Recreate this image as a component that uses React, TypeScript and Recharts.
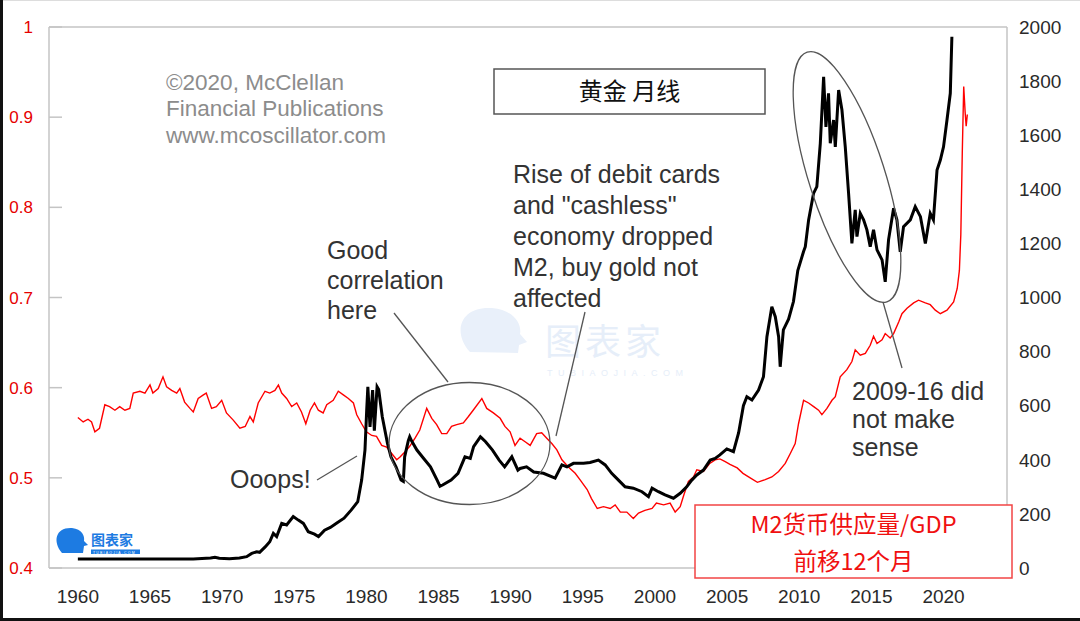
import React from 'react';
import { ComposedChart, Line, XAxis, YAxis, ReferenceLine } from 'recharts';

const SANS = '"Liberation Sans", Arial, sans-serif';
const CJK = '"Noto Sans CJK SC", "Noto Sans", sans-serif';

// axis ticks
const yearTicks = [1960, 1965, 1970, 1975, 1980, 1985, 1990, 1995, 2000, 2005, 2010, 2015, 2020];
const ratioTicks = [0.4, 0.5, 0.6, 0.7, 0.8, 0.9, 1];
const goldTicks = [0, 200, 400, 600, 800, 1000, 1200, 1400, 1600, 1800, 2000];

// gold, monthly close
const goldYears = [
  1960, 1962, 1964, 1966, 1968, 1969.2, 1969.5, 1969.8, 1970.5, 1971.2,
  1971.7, 1972.05, 1972.4, 1972.6, 1973.0, 1973.3, 1973.55, 1973.78, 1974.13, 1974.47,
  1974.93, 1975.28, 1975.63, 1975.97, 1976.4, 1976.68, 1977.1, 1977.5, 1978.0, 1978.45,
  1978.94, 1979.4, 1979.67, 1979.9, 1980.02, 1980.1, 1980.25, 1980.43, 1980.55, 1980.74,
  1980.85, 1981.1, 1981.46, 1981.7, 1982.05, 1982.4, 1982.56, 1982.65, 1982.9, 1983.0,
  1983.13, 1983.5, 1983.97, 1984.44, 1984.9, 1985.1, 1985.28, 1985.87, 1986.35, 1986.83,
  1987.2, 1987.43, 1987.9, 1988.0, 1988.26, 1988.74, 1989.2, 1989.58, 1990.08, 1990.5,
  1990.65, 1991.1, 1991.6, 1992.27, 1993.08, 1993.55, 1993.9, 1994.35, 1995.05, 1995.5,
  1996.08, 1996.55, 1997.0, 1997.47, 1997.93, 1998.5, 1999.1, 1999.55, 1999.8, 2000.24,
  2000.7, 2001.28, 2001.75, 2002.2, 2002.55, 2002.9, 2003.36, 2003.83, 2004.17, 2004.5,
  2004.98, 2005.44, 2005.8, 2006.13, 2006.37, 2006.72, 2007.18, 2007.52, 2007.76, 2008.1,
  2008.34, 2008.57, 2008.68, 2008.9, 2009.26, 2009.6, 2009.9, 2010.3, 2010.42, 2010.65,
  2010.99, 2011.22, 2011.46, 2011.69, 2011.85, 2012.03, 2012.15, 2012.38, 2012.5, 2012.73,
  2012.96, 2013.19, 2013.42, 2013.65, 2013.88, 2014.0, 2014.23, 2014.46, 2014.69, 2014.92,
  2015.15, 2015.39, 2015.74, 2015.96, 2016.19, 2016.54, 2016.77, 2017.0, 2017.23, 2017.7,
  2018.04, 2018.4, 2018.74, 2019.08, 2019.3, 2019.55, 2019.78, 2020.0, 2020.24, 2020.47,
  2020.58,
];
const goldPrices = [
  33, 33, 33, 33, 33, 37, 40, 36, 34, 37,
  42, 54, 60, 58, 79, 97, 128, 116, 165, 159,
  190, 177, 165, 134, 125, 116, 140, 150, 168, 184,
  214, 245, 325, 436, 584, 670, 522, 658, 508, 670,
  660, 559, 461, 411, 374, 325, 320, 411, 470, 485,
  470, 436, 405, 374, 325, 302, 307, 325, 350, 411,
  405, 449, 485, 480, 467, 436, 399, 374, 411, 362,
  368, 374, 355, 350, 332, 381, 374, 387, 387, 390,
  399, 381, 350, 325, 300, 295, 282, 264, 295, 282,
  270, 258, 276, 300, 325, 344, 362, 399, 405, 418,
  440, 430, 500, 600, 633, 621, 658, 707, 855, 966,
  929, 855, 744, 880, 920, 985, 1100, 1170, 1188, 1287,
  1385, 1410, 1570, 1816, 1631, 1755, 1570, 1656, 1557, 1767,
  1693, 1557, 1385, 1200, 1324, 1225, 1311, 1287, 1250, 1188,
  1250, 1176, 1139, 1058, 1213, 1330, 1287, 1169, 1262, 1287,
  1336, 1299, 1200, 1311, 1287, 1471, 1508, 1557, 1656, 1755,
  1964,
];

// M2 / GDP, shifted forward 12 months
const m2Years = [
  1960, 1960.37, 1960.7, 1960.95, 1961.18, 1961.5, 1961.87, 1962.2, 1962.57, 1962.9, 1963.26, 1963.6,
  1963.84, 1964.3, 1964.65, 1965.0, 1965.2, 1965.57, 1965.9, 1966.15, 1966.5, 1966.85, 1967.07, 1967.4,
  1967.77, 1968.0, 1968.34, 1968.7, 1968.9, 1969.27, 1969.6, 1969.97, 1970.3, 1970.77, 1971.23, 1971.6,
  1971.93, 1972.16, 1972.5, 1972.97, 1973.3, 1973.66, 1973.9, 1974.13, 1974.47, 1974.82, 1975.17, 1975.5,
  1975.8, 1976.1, 1976.4, 1976.67, 1977.0, 1977.25, 1977.7, 1978.05, 1978.4, 1978.75, 1979.1, 1979.33,
  1979.67, 1980.0, 1980.37, 1980.7, 1981.06, 1981.4, 1981.75, 1982.1, 1982.33, 1982.68, 1983.0, 1983.37,
  1983.7, 1984.18, 1984.53, 1984.87, 1985.22, 1985.57, 1985.9, 1986.26, 1986.72, 1987.07, 1987.4, 1988.0,
  1988.34, 1988.8, 1989.27, 1989.6, 1989.96, 1990.3, 1990.65, 1991.0, 1991.35, 1991.8, 1992.15, 1992.5,
  1992.85, 1993.2, 1993.55, 1994.0, 1994.47, 1994.8, 1995.3, 1995.6, 1996.0, 1996.43, 1996.9, 1997.24,
  1997.6, 1998.05, 1998.5, 1998.86, 1999.3, 1999.8, 2000.1, 2000.6, 2001.05, 2001.4, 2001.75, 2002.0,
  2002.32, 2002.67, 2002.9, 2003.36, 2003.8, 2004.17, 2004.5, 2004.87, 2005.2, 2005.7, 2006.1, 2006.6,
  2007.1, 2007.64, 2008.1, 2008.57, 2009.03, 2009.38, 2009.72, 2009.95, 2010.3, 2010.65, 2011.0, 2011.34,
  2011.57, 2011.92, 2012.27, 2012.5, 2012.84, 2013.3, 2013.65, 2013.88, 2014.23, 2014.58, 2014.92, 2015.15,
  2015.39, 2015.74, 2015.96, 2016.3, 2016.54, 2016.9, 2017.12, 2017.47, 2017.93, 2018.27, 2018.74, 2019.08,
  2019.43, 2019.78, 2020.24, 2020.7, 2020.95, 2021.1, 2021.2, 2021.3, 2021.4, 2021.5, 2021.57, 2021.65,
];
const m2Ratios = [
  0.567, 0.562, 0.565, 0.562, 0.551, 0.555, 0.581, 0.579, 0.575, 0.579, 0.575, 0.577,
  0.594, 0.596, 0.594, 0.603, 0.594, 0.599, 0.612, 0.601, 0.597, 0.594, 0.599, 0.584,
  0.577, 0.573, 0.588, 0.592, 0.594, 0.577, 0.579, 0.586, 0.572, 0.564, 0.555, 0.557,
  0.568, 0.562, 0.583, 0.596, 0.594, 0.597, 0.603, 0.594, 0.588, 0.579, 0.583, 0.573,
  0.56, 0.575, 0.583, 0.575, 0.572, 0.581, 0.586, 0.596, 0.592, 0.588, 0.583, 0.57,
  0.56, 0.551, 0.547, 0.546, 0.536, 0.534, 0.527, 0.52, 0.523, 0.529, 0.535, 0.544,
  0.553, 0.577, 0.566, 0.559, 0.549, 0.549, 0.557, 0.559, 0.561, 0.568, 0.575, 0.588,
  0.577, 0.572, 0.566, 0.557, 0.551, 0.536, 0.544, 0.54, 0.536, 0.549, 0.55, 0.544,
  0.538, 0.531, 0.52, 0.512, 0.505, 0.498, 0.487, 0.477, 0.466, 0.468, 0.466, 0.47,
  0.462, 0.462, 0.455, 0.461, 0.464, 0.466, 0.472, 0.47, 0.472, 0.462, 0.468, 0.481,
  0.496, 0.501, 0.509, 0.507, 0.516, 0.52, 0.521, 0.518, 0.515, 0.511, 0.505, 0.5,
  0.495, 0.498, 0.501, 0.507, 0.516, 0.527, 0.538, 0.56, 0.586, 0.583, 0.579, 0.575,
  0.57, 0.577, 0.586, 0.59, 0.612, 0.62, 0.629, 0.642, 0.636, 0.638, 0.647, 0.657,
  0.649, 0.653, 0.66, 0.655, 0.66, 0.673, 0.682, 0.688, 0.694, 0.697, 0.694, 0.692,
  0.686, 0.682, 0.686, 0.695, 0.71, 0.73, 0.77, 0.86, 0.934, 0.905, 0.89, 0.903,
];

const goldData = goldYears.map((t, i) => ({ t, gold: goldPrices[i] }));
const m2Data = m2Years.map((t, i) => ({ t, m2: m2Ratios[i] }));

const BORDER = '#c4c4c4';

// left axis: red labels, short tick marks pointing into the plot
const RatioTick = (props: any) => {
  const { x, y, payload } = props;
  return (
    <g>
      <line x1={x + 16} x2={x + 29} y1={y} y2={y} stroke={BORDER} strokeWidth={1.5} />
      <text x={x} y={y} dy={6} textAnchor="end" fill="#e60000" fontSize={17} fontFamily={SANS}>
        {payload.value}
      </text>
    </g>
  );
};

const App = () => {
  const note = { fontFamily: SANS, fontSize: 25, fill: '#333' };
  const copy = { fontFamily: SANS, fontSize: 22.5, fill: '#8c8c8c' };
  return (
    <div style={{ position: 'fixed', left: 0, top: 0, width: 1080, height: 621, background: '#fff' }}>
      {/* watermarks, behind the chart */}
      <svg width={1080} height={621} style={{ position: 'absolute', left: 0, top: 0 }}>
        <path d="M470 352 C452 332 460 306 492 308 C514 310 522 324 520 334 L527 342 L519 345 L518 353 Z" fill="#e9f0fa" />
        <text x={545} y={355} fontFamily={CJK} fontSize={36} letterSpacing={4} fill="#e6eef9">图表家</text>
        <text x={547} y={376} fontFamily={SANS} fontSize={9} letterSpacing={5.5} fill="#e6eef9">TUBIAOJIA.COM</text>
        <path d="M62 553 C52 541 56 527 72 528 C82 529 85 536 84 541 L88 545 L84 546 L83 553 Z" fill="#1d7be2" />
        <text x={91} y={545} fontFamily={CJK} fontSize={14} fontWeight={700} fill="#1d7be2">图表家</text>
        <rect x={91} y={549.5} width={49} height={4.5} fill="#1d7be2" />
        <text x={93} y={553.8} fontFamily={SANS} fontSize={3.5} letterSpacing={1.2} fill="#fff">TUBIAOJIA.COM</text>
      </svg>

      <div style={{ position: 'absolute', left: 0, top: 0 }}>
        <ComposedChart width={1080} height={621} margin={{ top: 27, right: 0, bottom: 0, left: 0 }}>
          <XAxis
            dataKey="t"
            type="number"
            domain={[1958, 2024.4]}
            ticks={yearTicks}
            interval={0}
            allowDataOverflow
            height={53}
            tickLine={false}
            tickSize={0}
            tickMargin={22}
            axisLine={{ stroke: BORDER, strokeWidth: 1.5 }}
            tick={{ fill: '#2a2a2a', fontSize: 19, fontFamily: SANS }}
          />
          <YAxis
            yAxisId="ratio"
            type="number"
            domain={[0.4, 1]}
            ticks={ratioTicks}
            interval={0}
            width={49}
            tickLine={false}
            tickSize={0}
            tickMargin={16}
            axisLine={{ stroke: BORDER, strokeWidth: 1.5 }}
            tick={<RatioTick />}
          />
          <YAxis
            yAxisId="gold"
            orientation="right"
            type="number"
            domain={[0, 2000]}
            ticks={goldTicks}
            interval={0}
            width={73}
            tickLine={false}
            tickSize={0}
            tickMargin={12}
            axisLine={{ stroke: BORDER, strokeWidth: 1.5 }}
            tick={{ fill: '#2a2a2a', fontSize: 19, fontFamily: SANS, textAnchor: 'start' }}
          />
          <ReferenceLine yAxisId="ratio" y={1} stroke={BORDER} strokeWidth={1.5} />
          <Line
            yAxisId="ratio"
            data={m2Data}
            dataKey="m2"
            type="linear"
            stroke="#ff0000"
            strokeWidth={1.4}
            dot={false}
            isAnimationActive={false}
          />
          <Line
            yAxisId="gold"
            data={goldData}
            dataKey="gold"
            type="linear"
            stroke="#000"
            strokeWidth={3}
            dot={false}
            isAnimationActive={false}
          />
        </ComposedChart>
      </div>

      {/* annotations */}
      <svg width={1080} height={621} style={{ position: 'absolute', left: 0, top: 0, pointerEvents: 'none' }}>
        <rect x={494} y={69} width={271} height={45} fill="#fff" stroke="#555" strokeWidth={1.5} />
        <text x={629.5} y={100} textAnchor="middle" fontFamily={CJK} fontSize={24} fill="#111">黄金 月线</text>

        <text {...copy}>
          <tspan x={166} y={90}>©2020, McClellan</tspan>
          <tspan x={166} y={116}>Financial Publications</tspan>
          <tspan x={166} y={143}>www.mcoscillator.com</tspan>
        </text>

        <text {...note}>
          <tspan x={327} y={259}>Good</tspan>
          <tspan x={327} y={289}>correlation</tspan>
          <tspan x={327} y={319}>here</tspan>
        </text>
        <text {...note}>
          <tspan x={513} y={183}>Rise of debit cards</tspan>
          <tspan x={513} y={214}>and "cashless"</tspan>
          <tspan x={513} y={245}>economy dropped</tspan>
          <tspan x={513} y={276}>M2, buy gold not</tspan>
          <tspan x={513} y={307}>affected</tspan>
        </text>
        <text {...note} x={230} y={488}>Ooops!</text>
        <text {...note}>
          <tspan x={852} y={400}>2009-16 did</tspan>
          <tspan x={852} y={428}>not make</tspan>
          <tspan x={852} y={456}>sense</tspan>
        </text>

        <g stroke="#555" strokeWidth={1.3} fill="none">
          <ellipse cx={469.5} cy={443.5} rx={80.5} ry={61} />
          <ellipse cx={847} cy={177} rx={38} ry={131} transform="rotate(-17.7 847 177)" />
          <line x1={394} y1={313} x2={448} y2={382} />
          <line x1={585} y1={312} x2={556} y2={436} />
          <line x1={317} y1={480} x2={357} y2={456} />
          <line x1={883} y1={302} x2={902} y2={368} />
        </g>

        <rect x={695} y={505} width={317} height={73} fill="#fff" stroke="#f24444" strokeWidth={1.5} />
        <text x={853.5} y={532.5} textAnchor="middle" fontFamily={CJK} fontSize={23.5} fill="#f01010">M2货币供应量/GDP</text>
        <text x={853.5} y={569.5} textAnchor="middle" fontFamily={CJK} fontSize={23.5} fill="#f01010">前移12个月</text>

        <rect x={0} y={0} width={1080} height={1} fill="#ddd" />
        <rect x={0} y={0} width={3} height={621} fill="#111" />
        <rect x={0} y={618} width={1080} height={3} fill="#111" />
      </svg>
    </div>
  );
};

export default App;
